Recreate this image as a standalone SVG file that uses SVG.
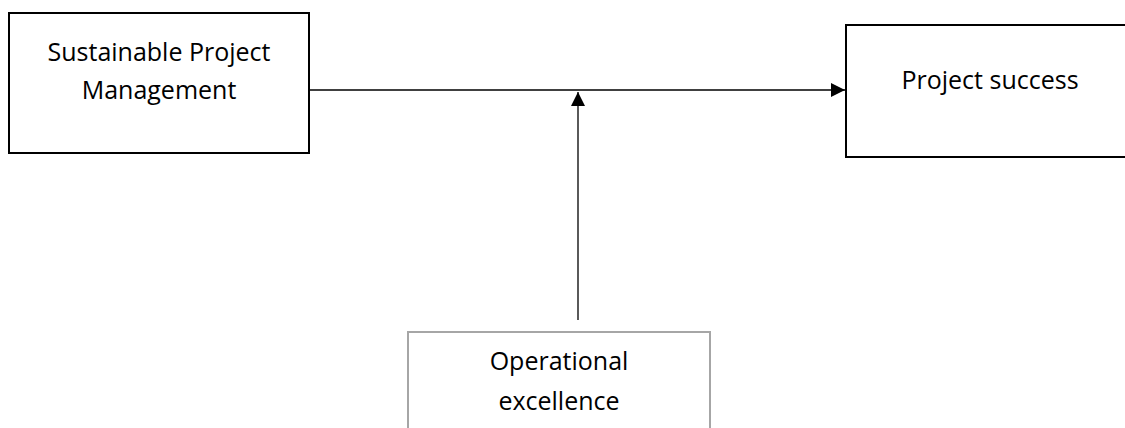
<svg xmlns="http://www.w3.org/2000/svg" width="1125" height="428" viewBox="0 0 1125 428">
<style>
text{font-family:"Open Sans","Liberation Sans",sans-serif;font-size:25px;fill:#000;text-anchor:middle}
.box{fill:#fff;stroke:#000;stroke-width:2}
.gbox{fill:#fff;stroke:#a6a6a6;stroke-width:2}
.edge{fill:none;stroke:#000;stroke-width:1.3}
</style>
<defs>
<marker id="ah" markerWidth="14" markerHeight="14" viewBox="0 0 14 14" refX="14" refY="7" orient="auto" markerUnits="userSpaceOnUse">
<path d="M0,0 L14,7 L0,14 Z" fill="#000"/>
</marker>
</defs>
<g id="node-spm">
<rect class="box" x="9" y="13" width="300" height="140"/>
<text x="159" y="61">Sustainable Project</text>
<text x="159" y="99">Management</text>
</g>
<g id="node-ps">
<rect class="box" x="846" y="25" width="290" height="132"/>
<text x="990" y="89">Project success</text>
</g>
<g id="node-oe">
<rect class="gbox" x="408" y="332" width="302" height="110"/>
<text x="559" y="370">Operational</text>
<text x="559" y="410">excellence</text>
</g>
<g id="connectors">
<line class="edge" x1="309" y1="90" x2="845" y2="90" marker-end="url(#ah)"/>
<line class="edge" x1="578" y1="320" x2="578" y2="92" marker-end="url(#ah)"/>
</g>
</svg>
